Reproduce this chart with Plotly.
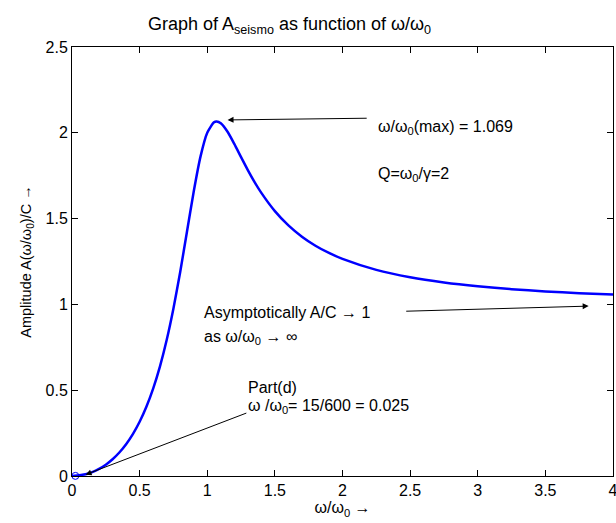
import plotly.graph_objects as go

# values (omega/omega0 vs A/C)
ratio = [0.0, 0.1, 0.15, 0.2, 0.25, 0.3, 0.35, 0.4, 0.45, 0.5, 0.55, 0.6, 0.65, 0.7, 0.75,
         0.8, 0.85, 0.9, 0.95, 1.0, 1.05, 1.069, 1.1, 1.15, 1.2, 1.25, 1.3, 1.35, 1.4, 1.5,
         1.6, 1.7, 1.8, 1.9, 2.0, 2.25, 2.5, 2.75, 3.0, 3.25, 3.5, 3.75, 4.0]
amp = [0.0, 0.0101, 0.0230, 0.0414, 0.0661, 0.0976, 0.1369, 0.1853, 0.2444, 0.3162, 0.4035,
       0.5093, 0.6376, 0.7922, 0.9762, 1.1893, 1.4234, 1.6582, 1.8612, 2.0, 2.0611, 2.0656,
       2.0553, 2.0060, 1.9354, 1.8582, 1.7828, 1.7128, 1.6497, 1.5435, 1.4602, 1.3946,
       1.3421, 1.2997, 1.2649, 1.2010, 1.1581, 1.1279, 1.1057, 1.0890, 1.0759, 1.0657, 1.0573]

part_d_x = [0.025]
part_d_y = [0.000625]

x_ticks = [0, 0.5, 1, 1.5, 2, 2.5, 3, 3.5, 4]
y_ticks = [0, 0.5, 1, 1.5, 2, 2.5]

font = "Liberation Sans, Arial, Helvetica, sans-serif"

fig = go.Figure()
fig.add_trace(go.Scatter(x=ratio, y=amp, mode="lines",
                         line=dict(color="#0000ff", width=2.5, shape="spline", smoothing=0.6),
                         showlegend=False, cliponaxis=False))
fig.add_trace(go.Scatter(x=part_d_x, y=part_d_y, mode="markers",
                         marker=dict(symbol="circle-open", color="#0000ff", size=7, line=dict(width=1)),
                         showlegend=False, cliponaxis=False))

ann = []
def arrow(x, y, ax, ay):
    ann.append(dict(x=x, y=y, ax=ax, ay=ay, xref="x", yref="y", axref="x", ayref="y", text="",
                    showarrow=True, arrowhead=2, arrowsize=1.2, arrowwidth=1, arrowcolor="black"))

def label(x, y, text):
    ann.append(dict(x=x, y=y, xref="x", yref="y", text=text, showarrow=False, xanchor="left",
                    yanchor="middle", align="left", font=dict(family=font, size=16, color="black")))

arrow(1.15, 2.075, 2.19, 2.085)
label(2.25, 2.03, "ω/ω<sub>0</sub>(max) = 1.069")
label(2.25, 1.755, "Q=ω<sub>0</sub>/γ=2")
arrow(3.82, 0.99, 2.46, 0.96)
label(0.96, 0.95, "Asymptotically A/C → 1")
label(0.96, 0.81, "as ω/ω<sub>0</sub> → ∞")
arrow(0.1, 0.008, 1.3, 0.37)
label(1.29, 0.515, "Part(d)")
label(1.29, 0.405, "ω /ω<sub>0</sub>= 15/600 = 0.025")

fig.update_layout(
    width=616, height=523,
    margin=dict(l=72, r=3, t=47, b=47),
    paper_bgcolor="white", plot_bgcolor="white",
    font=dict(family=font, size=16, color="black"),
    title=dict(text="Graph of A<sub>seismo</sub> as function of ω/ω<sub>0</sub>", x=0.47, xanchor="center",
               y=0.955, yanchor="middle", font=dict(family=font, size=18, color="black")),
    annotations=ann,
    xaxis=dict(range=[0, 4], tickvals=x_ticks, ticktext=[f"{v:g}" for v in x_ticks],
               showgrid=False, zeroline=False, showline=True, linecolor="black", linewidth=1,
               mirror="ticks", ticks="inside", ticklen=6, tickcolor="black", automargin=False,
               tickfont=dict(size=16), ticklabeloverflow="allow",
               title=dict(text="ω/ω<sub>0</sub> →", standoff=0, font=dict(size=16))),
    yaxis=dict(range=[0, 2.5], tickvals=y_ticks, ticktext=[f"{v:g}" for v in y_ticks],
               showgrid=False, zeroline=False, showline=True, linecolor="black", linewidth=1,
               mirror="ticks", ticks="inside", ticklen=6, tickcolor="black", automargin=False,
               tickfont=dict(size=16), ticklabeloverflow="allow",
               title=dict(text="Amplitude A(ω/ω<sub>0</sub>)/C →", standoff=10, font=dict(size=14.5))),
)

fig.write_html("out.html", config={"displayModeBar": False},
               post_script="document.body.style.margin='0px';document.body.style.overflow='hidden';")
